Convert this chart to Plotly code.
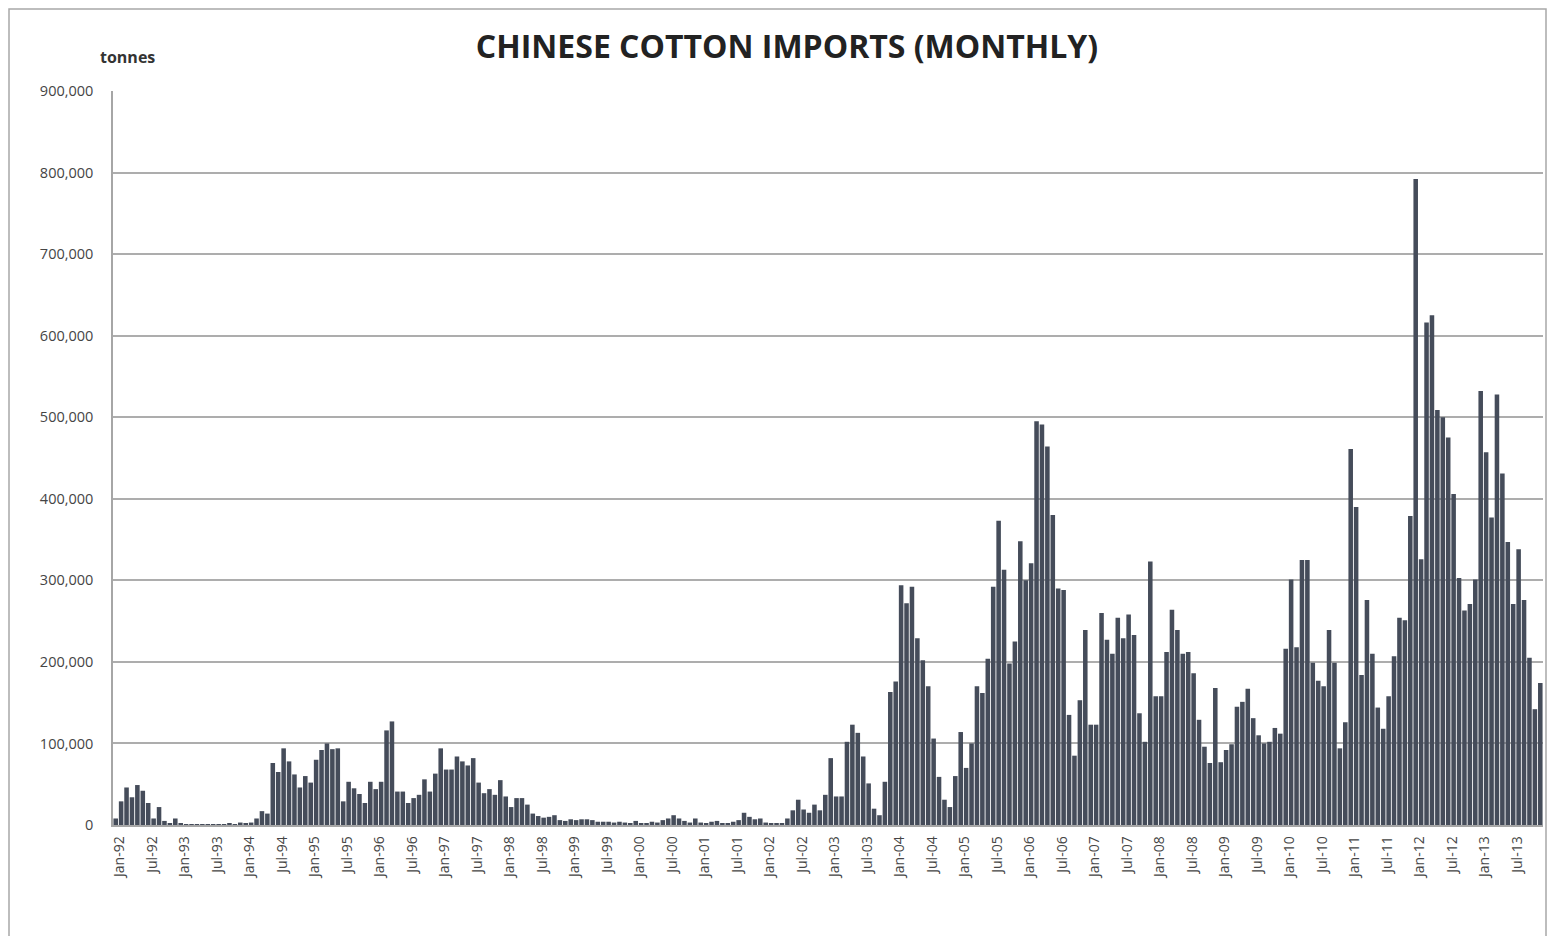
import plotly.graph_objects as go

# Monthly Chinese cotton imports, tonnes
months = ["Jan", "Feb", "Mar", "Apr", "May", "Jun", "Jul", "Aug", "Sep", "Oct", "Nov", "Dec"]
years = list(range(1992, 2014))

v1992 = [8000, 29000, 46000, 34000, 49000, 42000, 27000, 8000, 22000, 5000, 2000, 8000]
v1993 = [2000, 1000, 1000, 1000, 1000, 1000, 1000, 1000, 1000, 2000, 1000, 3000]
v1994 = [2000, 3000, 8000, 17000, 14000, 76000, 65000, 94000, 78000, 62000, 46000, 60000]
v1995 = [52000, 80000, 92000, 100000, 93000, 94000, 29000, 53000, 45000, 38000, 27000, 53000]
v1996 = [44000, 53000, 116000, 127000, 41000, 41000, 27000, 33000, 37000, 56000, 41000, 63000]
v1997 = [94000, 68000, 68000, 84000, 78000, 73000, 82000, 52000, 39000, 44000, 37000, 55000]
v1998 = [35000, 22000, 33000, 33000, 25000, 14000, 11000, 9000, 10000, 12000, 6000, 5000]
v1999 = [7000, 6000, 7000, 7000, 6000, 4000, 4000, 4000, 3000, 4000, 3000, 2000]
v2000 = [5000, 2000, 2000, 4000, 3000, 6000, 8000, 12000, 8000, 5000, 3000, 8000]
v2001 = [3000, 2000, 4000, 5000, 2000, 2000, 4000, 6000, 15000, 10000, 7000, 8000]
v2002 = [3000, 2000, 2000, 2000, 8000, 18000, 31000, 19000, 15000, 25000, 18000, 37000]
v2003 = [82000, 35000, 35000, 102000, 123000, 113000, 84000, 51000, 20000, 12000, 53000, 163000]
v2004 = [176000, 294000, 272000, 292000, 229000, 202000, 170000, 106000, 59000, 31000, 22000, 60000]
v2005 = [114000, 70000, 100000, 170000, 162000, 204000, 292000, 373000, 313000, 198000, 225000, 348000]
v2006 = [300000, 321000, 495000, 491000, 464000, 380000, 290000, 288000, 135000, 85000, 153000, 239000]
v2007 = [123000, 123000, 260000, 227000, 210000, 254000, 229000, 258000, 233000, 137000, 102000, 323000]
v2008 = [158000, 158000, 212000, 264000, 239000, 210000, 212000, 186000, 129000, 96000, 76000, 168000]
v2009 = [77000, 92000, 99000, 145000, 151000, 167000, 131000, 110000, 100000, 102000, 119000, 112000]
v2010 = [216000, 301000, 218000, 325000, 325000, 199000, 177000, 170000, 239000, 199000, 94000, 126000]
v2011 = [461000, 390000, 184000, 276000, 210000, 144000, 118000, 158000, 207000, 254000, 251000, 379000]
v2012 = [792000, 326000, 616000, 625000, 509000, 500000, 475000, 406000, 303000, 263000, 271000, 301000]
v2013 = [532000, 457000, 377000, 528000, 431000, 347000, 271000, 338000, 276000, 205000, 142000, 174000]

yearly = [v1992, v1993, v1994, v1995, v1996, v1997, v1998, v1999, v2000, v2001, v2002,
          v2003, v2004, v2005, v2006, v2007, v2008, v2009, v2010, v2011, v2012, v2013]

categories = []
values = []
for y, vals in zip(years, yearly):
    for m, v in zip(months, vals):
        categories.append(f"{m}-{str(y)[2:]}")
        values.append(v)

tick_labels = [c for c in categories if c.startswith("Jan") or c.startswith("Jul")]
y_ticks = [0, 100000, 200000, 300000, 400000, 500000, 600000, 700000, 800000, 900000]

W, H = 1548, 936
L, R, T, B = 113, 5, 91, 111
pw, ph = W - L - R, H - T - B

fig = go.Figure()
fig.add_trace(go.Bar(
    x=categories, y=values,
    marker=dict(color="#454c5a", line=dict(width=0)),
    hoverinfo="x+y",
))

fig.update_layout(
    width=W, height=H,
    margin=dict(l=L, r=R, t=T, b=B, pad=0),
    paper_bgcolor="white", plot_bgcolor="white",
    bargap=0.16,
    showlegend=False,
    font=dict(family="Open Sans, Lato, sans-serif", color="#404040"),
    title=dict(
        text="<b>CHINESE COTTON IMPORTS (MONTHLY)</b>",
        x=787 / W, xanchor="center",
        y=1 - 47 / H, yanchor="middle",
        font=dict(size=32, color="#222222", family="Open Sans, sans-serif"),
    ),
)

fig.update_xaxes(
    type="category",
    tickmode="array", tickvals=tick_labels, ticktext=tick_labels,
    tickangle=-90,
    tickfont=dict(size=14, color="#454545", family="Open Sans, sans-serif"),
    showgrid=False,
    showline=True, linecolor="#a6a6a6", linewidth=1.5,
    ticks="", ticklen=0,
    ticklabelshift=4, ticklabelstandoff=4,
    range=[-0.5, len(categories) - 0.5],
)

fig.update_yaxes(
    range=[0, 900000],
    tickmode="array", tickvals=y_ticks,
    tickformat=",d",
    tickfont=dict(size=14.5, color="#454545", family="Open Sans, sans-serif"),
    showgrid=True, gridcolor="#adadad", gridwidth=1.5,
    showline=True, linecolor="#a6a6a6", linewidth=1.5,
    zeroline=False,
    ticks="", ticklabelstandoff=15,
)

# "tonnes" unit label above the axis
fig.add_annotation(
    text="<b>tonnes</b>", xref="paper", yref="paper",
    x=(127 - L) / pw, y=1 + (T - 57) / ph,
    xanchor="center", yanchor="middle", showarrow=False,
    font=dict(size=16, color="#333333", family="Open Sans, sans-serif"),
)

# outer chart frame (bottom edge lies below the visible canvas, as in the reference)
fig.add_shape(
    type="rect", xref="paper", yref="paper",
    x0=(9 - L) / pw, x1=(1546 - L) / pw,
    y0=-(950 - (H - B)) / ph, y1=1 + (T - 9) / ph,
    line=dict(color="#a8a8a8", width=1.5), fillcolor="rgba(0,0,0,0)", layer="below",
)

fig.write_html(
    "out.html",
    config={"displayModeBar": False},
    post_script="document.body.style.margin='0';document.body.style.padding='0';",
)
